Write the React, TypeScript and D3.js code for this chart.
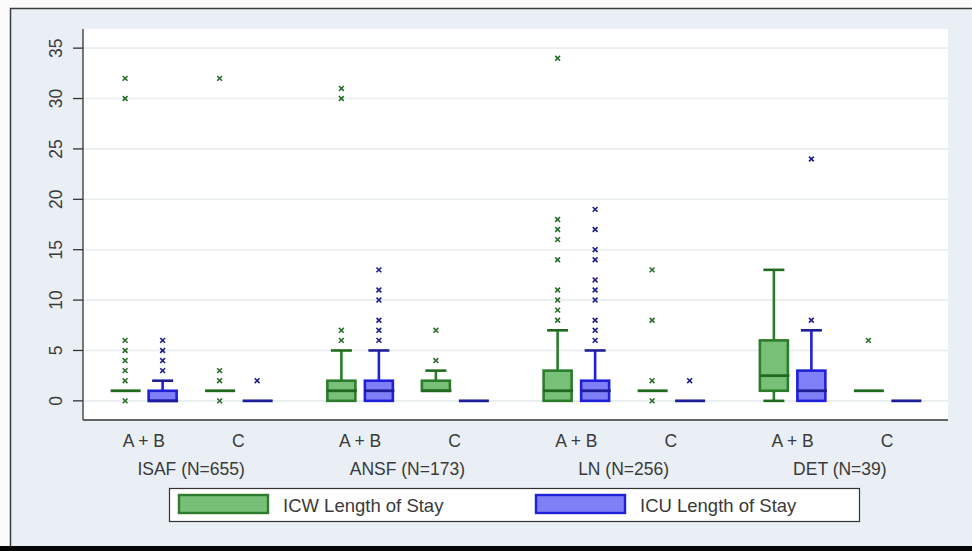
import React from "react";
import * as d3 from "d3";

const groups = ["ISAF (N=655)", "ANSF (N=173)", "LN (N=256)", "DET (N=39)"];
const subgroups = ["A + B", "C"];
const seriesNames = ["ICW Length of Stay", "ICU Length of Stay"];
const yTicks = [0, 5, 10, 15, 20, 25, 30, 35];

// box order: ISAF A+B, ISAF C, ANSF A+B, ANSF C, LN A+B, LN C, DET A+B, DET C
const icwLo = [1, 1, 0, 1, 0, 1, 0, 1];
const icwQ1 = [1, 1, 0, 1, 0, 1, 1, 1];
const icwMed = [1, 1, 1, 1, 1, 1, 2.5, 1];
const icwQ3 = [1, 1, 2, 2, 3, 1, 6, 1];
const icwHi = [1, 1, 5, 3, 7, 1, 13, 1];
const icwOut = [
  [0, 2, 3, 4, 5, 6, 30, 32],
  [0, 2, 3, 32],
  [6, 7, 30, 31],
  [4, 7],
  [8, 9, 10, 11, 14, 16, 17, 18, 34],
  [0, 2, 8, 13],
  [],
  [6],
];

const icuLo = [0, 0, 0, 0, 0, 0, 0, 0];
const icuQ1 = [0, 0, 0, 0, 0, 0, 0, 0];
const icuMed = [0, 0, 1, 0, 1, 0, 1, 0];
const icuQ3 = [1, 0, 2, 0, 2, 0, 3, 0];
const icuHi = [2, 0, 5, 0, 5, 0, 7, 0];
const icuOut = [
  [3, 4, 5, 6],
  [2],
  [6, 7, 8, 10, 11, 13],
  [],
  [6, 7, 8, 10, 11, 12, 14, 15, 17, 19],
  [2],
  [8, 24],
  [],
];

const W = 972;
const H = 551;
const plot = { left: 83, right: 948, top: 29, bottom: 420 };

const styles = [
  { fill: "#78c078", stroke: "#2b7d2b", median: "#1f6a1f", marker: "#2a6e2a" },
  { fill: "#7f7ff7", stroke: "#2020d8", median: "#1e1e9a", marker: "#1e1e8c" },
];

const FONT = "'Liberation Sans', Arial, sans-serif";
const TEXT = "#3a3a3a";

export default function App() {
  const y = d3.scaleLinear().domain([-1.9, 36.9]).range([plot.bottom, plot.top]);
  const xg = d3.scaleBand<string>().domain(groups).range([plot.left, plot.right]);
  const xs = d3.scalePoint<string>().domain(subgroups).range([-47.25, 47.25]);
  const xk = d3.scalePoint<string>().domain(seriesNames).range([-18.75, 18.75]);

  const boxW = 28;
  const capW = 21;

  const series = [
    { lo: icwLo, q1: icwQ1, med: icwMed, q3: icwQ3, hi: icwHi, out: icwOut },
    { lo: icuLo, q1: icuQ1, med: icuMed, q3: icuQ3, hi: icuHi, out: icuOut },
  ];

  const boxes: any[] = [];
  groups.forEach((g, gi) => {
    subgroups.forEach((s, si) => {
      const idx = gi * 2 + si;
      const base = (xg(g) as number) + xg.bandwidth() / 2 + (xs(s) as number);
      seriesNames.forEach((name, ki) => {
        const d = series[ki];
        const st = styles[ki];
        const cx = base + (xk(name) as number);
        const lo = d.lo[idx], q1 = d.q1[idx], med = d.med[idx], q3 = d.q3[idx], hi = d.hi[idx];
        const els: any[] = [];
        // whiskers
        if (hi > q3) {
          els.push(<line key="wh" x1={cx} x2={cx} y1={y(q3)} y2={y(hi)} stroke={st.stroke} strokeWidth={2.6} />);
          els.push(<line key="ch" x1={cx - capW / 2} x2={cx + capW / 2} y1={y(hi)} y2={y(hi)} stroke={st.median} strokeWidth={2.6} />);
        }
        if (lo < q1) {
          els.push(<line key="wl" x1={cx} x2={cx} y1={y(q1)} y2={y(lo)} stroke={st.stroke} strokeWidth={2.6} />);
          els.push(<line key="cl" x1={cx - capW / 2} x2={cx + capW / 2} y1={y(lo)} y2={y(lo)} stroke={st.median} strokeWidth={2.6} />);
        }
        if (q3 > q1) {
          els.push(
            <rect key="box" x={cx - boxW / 2} y={y(q3)} width={boxW} height={y(q1) - y(q3)} fill={st.fill} stroke={st.stroke} strokeWidth={2.6} />
          );
        }
        els.push(
          <line key="med" x1={cx - boxW / 2 - 0.5} x2={cx + boxW / 2 + 1.5} y1={y(med)} y2={y(med)} stroke={st.median} strokeWidth={2.8} />
        );
        d.out[idx].forEach((v: number, oi: number) => {
          const py = y(v);
          const r = 2.4;
          els.push(
            <path
              key={"o" + oi}
              d={`M${cx - r},${py - r}L${cx + r},${py + r}M${cx - r},${py + r}L${cx + r},${py - r}`}
              stroke={st.marker}
              strokeWidth={1.6}
              fill="none"
            />
          );
        });
        boxes.push(<g key={`${gi}-${si}-${ki}`}>{els}</g>);
      });
    });
  });

  return (
    <svg width={W} height={H} style={{ position: "absolute", left: 0, top: 0 }} fontFamily={FONT}>
      <rect x={0} y={0} width={W} height={H} fill="#fbfbfb" />
      <rect x={10.5} y={8.5} width={975} height={540} fill="#e9eff4" stroke="#3c3c3c" strokeWidth={1.5} />
      <rect x={0} y={546} width={W} height={5} fill="#050505" />
      <rect x={plot.left} y={plot.top} width={plot.right - plot.left} height={plot.bottom - plot.top} fill="#ffffff" />
      {yTicks.map((t) => (
        <line key={"g" + t} x1={plot.left} x2={plot.right} y1={y(t)} y2={y(t)} stroke="#e8edf0" strokeWidth={1.6} />
      ))}
      <line x1={plot.left} x2={plot.left} y1={plot.top} y2={plot.bottom} stroke="#333" strokeWidth={1.3} />
      <line x1={plot.left} x2={plot.right} y1={plot.bottom} y2={plot.bottom} stroke="#333" strokeWidth={1.3} />
      {yTicks.map((t) => (
        <g key={"t" + t}>
          <line x1={plot.left - 10} x2={plot.left} y1={y(t)} y2={y(t)} stroke="#333" strokeWidth={1.3} />
          <text
            transform={`translate(${62},${y(t)}) rotate(-90)`}
            textAnchor="middle"
            fontSize={17.5}
            fill={TEXT}
          >
            {t}
          </text>
        </g>
      ))}
      {boxes}
      {groups.map((g, gi) => {
        const gc = (xg(g) as number) + xg.bandwidth() / 2;
        return (
          <g key={"lab" + gi}>
            {subgroups.map((s) => (
              <text key={s} x={gc + (xs(s) as number)} y={447} textAnchor="middle" fontSize={17.5} fill={TEXT}>
                {s}
              </text>
            ))}
            <text x={gc} y={475} textAnchor="middle" fontSize={17.5} fill={TEXT}>
              {g}
            </text>
          </g>
        );
      })}
      <rect x={169.5} y={488.5} width={690} height={33} fill="#ffffff" stroke="#333" strokeWidth={1.2} />
      {seriesNames.map((n, i) => {
        const sx = i === 0 ? 179 : 536;
        return (
          <g key={"leg" + i}>
            <rect x={sx} y={495} width={89} height={18} fill={styles[i].fill} stroke={styles[i].stroke} strokeWidth={2.4} />
            <text x={sx + 104} y={512} fontSize={18.5} fill={TEXT}>
              {n}
            </text>
          </g>
        );
      })}
    </svg>
  );
}
